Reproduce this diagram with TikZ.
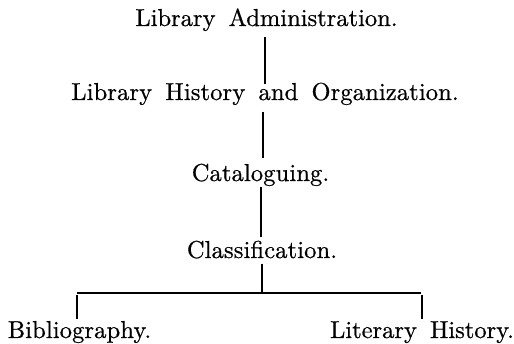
\documentclass[tikz,border=0pt]{standalone}
\usepackage{fontspec}
\setmainfont{lmroman10-regular}[Extension=.otf,LetterSpace=0.5,WordSpace=1.6,FakeBold=0.6]
\usetikzlibrary{calc}
\begin{document}
\begin{tikzpicture}[x=1pt,y=-1pt,
  lbl/.style={anchor=base,inner sep=0pt,font=\fontsize{24.5}{29}\selectfont},
  tight/.style={font=\fontsize{24.5}{29}\selectfont\addfontfeatures{LetterSpace=0}},
  conn/.style={line width=1.2pt,black}]
\useasboundingbox (0,0) rectangle (514,344);
\node[lbl,tight] (t1) at (266.5,26) {Library Administration.};
\node[lbl] (t2) at (265,100) {Library History and Organization.};
\node[lbl] (t3) at (260.5,181) {Cataloguing.};
\node[lbl] (t4) at (262,258) {Classification.};
\node[lbl] (b) at (79.5,338) {Bibliography.};
\node[lbl,tight] (l) at (422,338) {Literary History.};
\coordinate (j) at (262,293);
\coordinate (jl) at (77,293);
\coordinate (jr) at (421,293);
\draw[conn] ($(t1.base)+(-1.5,11)$) -- ($(t2.base)+(0,-16)$);
\draw[conn] ($(t2.base)+(-2,12)$) -- ($(t3.base)+(2.5,-23)$);
\draw[conn,line width=1.5pt] ($(t3.base)+(0.5,6)$) -- ($(t4.base)+(-1,-21)$);
\draw[conn] ($(t4.base)+(0,6)$) -- (j);
\draw[conn] (jl) -- (jr);
\draw[conn] ($(b.base)+(-2.5,-43)$) -- ($(b.base)+(-2.5,-19)$);
\draw[conn] ($(l.base)+(0,-43)$) -- ($(l.base)+(0,-19)$);
\end{tikzpicture}
\end{document}
